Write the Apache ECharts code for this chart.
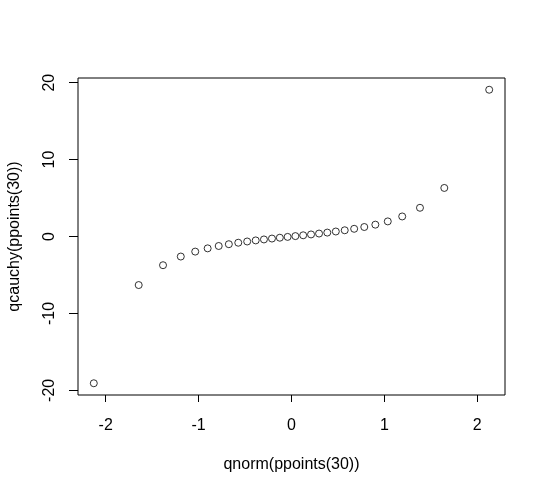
<!DOCTYPE html>
<html>
<head>
<meta charset="utf-8">
<script src="https://cdn.jsdelivr.net/npm/echarts@6/dist/echarts.min.js"></script>
<style>html,body{margin:0;padding:0;background:#fff}#c{width:546px;height:493px}</style>
</head>
<body>
<div id="c"></div>
<script>
// qnorm(ppoints(30)) and qcauchy(ppoints(30))
const xValues = [-2.1281, -1.6449, -1.3830, -1.1918, -1.0364, -0.9027, -0.7835, -0.6745, -0.5729, -0.4770,
  -0.3853, -0.2967, -0.2104, -0.1257, -0.0418, 0.0418, 0.1257, 0.2104, 0.2967, 0.3853,
  0.4770, 0.5729, 0.6745, 0.7835, 0.9027, 1.0364, 1.1918, 1.3830, 1.6449, 2.1281];
const yValues = [-19.0811, -6.3138, -3.7321, -2.6051, -1.9626, -1.5399, -1.2349, -1.0000, -0.8098, -0.6494,
  -0.5095, -0.3839, -0.2679, -0.1584, -0.0524, 0.0524, 0.1584, 0.2679, 0.3839, 0.5095,
  0.6494, 0.8098, 1.0000, 1.2349, 1.5399, 1.9626, 2.6051, 3.7321, 6.3138, 19.0811];
const xTicks = [-2, -1, 0, 1, 2];
const yTicks = [-20, -10, 0, 10, 20];
const xTitle = 'qnorm(ppoints(30))';
const yTitle = 'qcauchy(ppoints(30))';

const font = 'Liberation Sans, Arial, sans-serif';
const xMin = -2.2983, xMax = 2.2983, yMin = -20.6076, yMax = 20.6076;

const chart = echarts.init(document.getElementById('c'), null, {renderer: 'canvas'});
chart.setOption({
  animation: false,
  backgroundColor: '#fff',
  grid: {left: 78, top: 78, width: 427, height: 317, show: true, borderColor: '#000', borderWidth: 1,
    backgroundColor: 'transparent', containLabel: false, outerBoundsMode: 'none'},
  xAxis: {
    type: 'value', min: xMin, max: xMax,
    splitLine: {show: false},
    axisLine: {show: false, onZero: false},
    axisTick: {show: true, inside: false, length: 7, lineStyle: {color: '#000', width: 1}, customValues: xTicks},
    axisLabel: {show: true, margin: 23, color: '#000', fontSize: 16, fontFamily: font, customValues: xTicks, formatter: v => String(v)},
    name: xTitle, nameLocation: 'middle', nameGap: 62,
    nameTextStyle: {color: '#000', fontSize: 16, fontFamily: font}
  },
  yAxis: {
    type: 'value', min: yMin, max: yMax,
    splitLine: {show: false},
    axisLine: {show: false, onZero: false},
    axisTick: {show: true, inside: false, length: 9, lineStyle: {color: '#000', width: 1}, customValues: yTicks},
    axisLabel: {show: true, margin: 20, rotate: 90, color: '#000', fontSize: 16, fontFamily: font, customValues: yTicks, formatter: v => String(v)},
    name: yTitle, nameLocation: 'middle', nameGap: 55,
    nameTextStyle: {color: '#000', fontSize: 16, fontFamily: font}
  },
  series: [{
    type: 'scatter',
    data: xValues.map((x, i) => [x, yValues[i]]),
    symbol: 'circle', symbolSize: 7,
    itemStyle: {color: 'transparent', borderColor: '#000', borderWidth: 1},
    emphasis: {disabled: true}
  }]
});
</script>
</body>
</html>
